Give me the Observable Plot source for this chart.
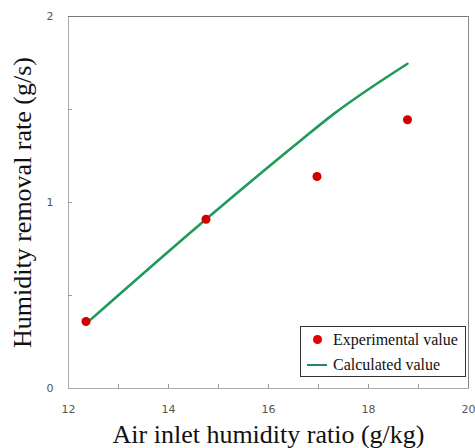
<!DOCTYPE html>
<html>
<head>
<meta charset="utf-8">
<script src="https://cdn.jsdelivr.net/npm/d3@7"></script>
<script src="https://cdn.jsdelivr.net/npm/@observablehq/plot@0.6"></script>
<style>
  html, body { margin: 0; padding: 0; background: #fff; }
  #wrap { position: relative; width: 475px; height: 448px; }
  #legend {
    position: absolute; left: 300px; top: 326px; width: 164px; height: 49px;
    border: 1px solid #333; background: #fff;
    font-family: "Liberation Serif", "Times New Roman", serif; font-size: 16px; color: #111;
  }
  .row { position: absolute; left: 0; display: flex; align-items: center; height: 18px; }
  .sym { width: 26px; height: 18px; position: relative; }
</style>
</head>
<body>
<div id="wrap"></div>
<script>
// Experimental values
const expX = [12.35, 14.75, 16.97, 18.78];
const expY = [0.36, 0.91, 1.14, 1.445];
// Calculated values
const calcX = [12.4, 14.75, 16.65, 17.3, 18.78];
const calcY = [0.36, 0.91, 1.335, 1.475, 1.746];
// Axis ticks
const xTickLabels = [12, 14, 16, 18, 20];
const xTicks = [13, 14, 15, 16, 17, 18, 19];
const yTickLabels = [0, 1, 2];
const yTicks = [0.5, 1, 1.5];
const seriesNames = ["Experimental value", "Calculated value"];

const exp = expX.map((x, i) => ({x, y: expY[i]}));
const calc = calcX.map((x, i) => ({x, y: calcY[i]}));

const serif = "'Liberation Serif', 'Times New Roman', serif";

const chart = Plot.plot({
  width: 475,
  height: 448,
  marginLeft: 68,
  marginRight: 7,
  marginTop: 16,
  marginBottom: 60,
  style: {background: "#fff", fontFamily: "'DejaVu Sans', sans-serif"},
  x: {domain: [12, 20]},
  y: {domain: [0, 2]},
  marks: [
    Plot.frame({stroke: "#aaa"}),
    Plot.ruleY([2], {stroke: "#777"}),
    Plot.ruleX([20], {stroke: "#888"}),
    Plot.axisX(xTicks, {tickSize: -4, stroke: "#999", text: null, label: null}),
    Plot.axisY(yTicks, {tickSize: -4, stroke: "#999", text: null, label: null}),
    Plot.axisX(xTickLabels, {tickSize: 0, tickPadding: 17, fontSize: 11, fill: "#555", label: null, tickFormat: d => String(d)}),
    Plot.axisY(yTickLabels, {tickSize: 0, tickPadding: 15, fontSize: 11, fill: "#555", label: null, tickFormat: d => String(d)}),
    Plot.line(calc, {x: "x", y: "y", stroke: "#1f9a5a", strokeWidth: 2.6, curve: "monotone-x"}),
    Plot.dot(exp, {x: "x", y: "y", r: 4.5, fill: "#d40000", stroke: "none"}),
    Plot.text(["Humidity removal rate (g/s)"], {frameAnchor: "left", textAnchor: "middle", lineAnchor: "middle", dx: -46, rotate: -90, fontSize: 26, fontFamily: serif, fill: "#111"}),
    Plot.text(["Air inlet humidity ratio (g/kg)"], {frameAnchor: "bottom", textAnchor: "middle", lineAnchor: "middle", dy: 46, fontSize: 26, fontFamily: serif, fill: "#111"})
  ]
});

const wrap = document.getElementById("wrap");
wrap.appendChild(chart);

const legend = document.createElement("div");
legend.id = "legend";
legend.innerHTML = `
  <div class="row" style="top:4px;"><div class="sym"><span style="position:absolute;left:12px;top:4px;width:9px;height:9px;border-radius:50%;background:#e00000;"></span></div><span style="margin-left:6px">${seriesNames[0]}</span></div>
  <div class="row" style="top:29px;"><div class="sym"><span style="position:absolute;left:6px;top:8px;width:20px;height:2px;background:#1f8a6a;"></span></div><span style="margin-left:6px">${seriesNames[1]}</span></div>
`;
wrap.appendChild(legend);
</script>
</body>
</html>
